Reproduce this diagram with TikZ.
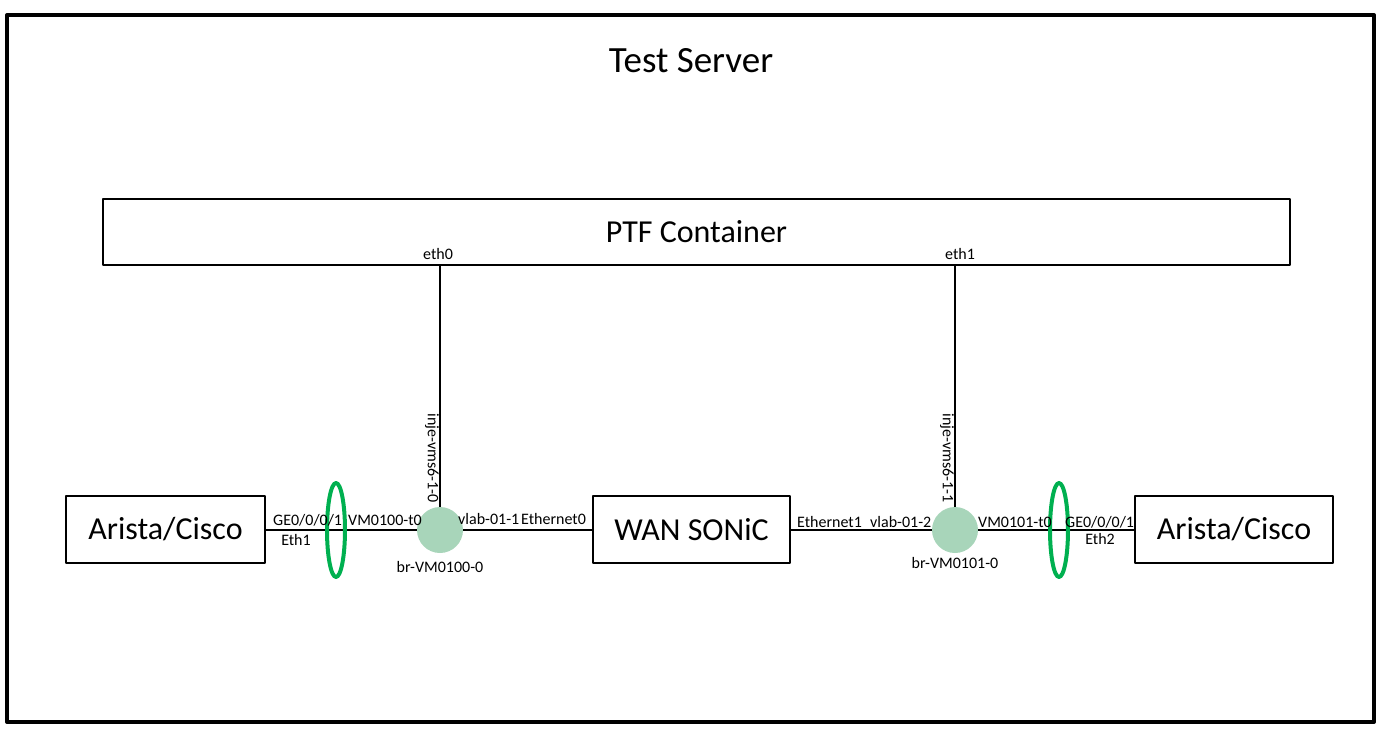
\documentclass[tikz,border=0pt]{standalone}
\usepackage{fontspec}
\setmainfont{Carlito}
\usetikzlibrary{shapes.geometric}
\definecolor{brfill}{RGB}{168,213,186}
\definecolor{laggreen}{RGB}{0,176,80}
\tikzset{
	box/.style={draw, line width=2.2pt, fill=white, inner sep=0pt, font=\fontsize{32}{36}\selectfont},
	bridge/.style={circle, fill=brfill, minimum size=46pt, inner sep=0pt},
	lag/.style={ellipse, draw=laggreen, line width=4pt, minimum width=18pt, minimum height=94pt, inner sep=0pt},
	lbl/.style={font=\fontsize{16}{18}\selectfont, inner sep=0pt},
	wire/.style={line width=2pt}
}
\begin{document}
\begin{tikzpicture}[x=1pt, y=-1pt, line join=round]
				\useasboundingbox (0,0) rectangle (1385,739);
				%frame
				\draw[line width=4pt] (7,15) rectangle (1374,722);
				\node[font=\fontsize{37}{41}\selectfont, anchor=base] (title) at (691,72) {Test Server};
				%boxes
				\node[box, minimum width=1187pt, minimum height=66pt] (ptf) at (696.5,232) {PTF Container};
				\node[box, minimum width=199pt, minimum height=67pt] (aristaL) at (165.5,529.5) {Arista/Cisco};
				\node[box, minimum width=197pt, minimum height=67pt] (wan) at (691.5,529.5) {WAN SONiC};
				\node[box, minimum width=198pt, minimum height=67pt] (aristaR) at (1234,529.5) {Arista/Cisco};
				\node[bridge] (brL) at (440,530) {};
				\node[bridge] (brR) at (955,530) {};
				\coordinate (eth0) at (440,265);
				\coordinate (eth1) at (955,265);
				%links
				\draw[wire] (aristaL.east |- brL) -- (brL);
				\draw[wire] (brL) -- (wan.west |- brL);
				\draw[wire] (wan.east |- brR) -- (brR);
				\draw[wire] (brR) -- (aristaR.west |- brR);
				\draw[wire] (eth0) -- (brL.north);
				\draw[wire] (eth1) -- (brR.north);
				\node[lag] (lagL) at (336,530) {};
				\node[lag] (lagR) at (1059,530) {};
				%labels
				\node[lbl, anchor=base] at (438,259) {eth0};
				\node[lbl, anchor=base] at (960,259) {eth1};
				\node[lbl, rotate=-90, anchor=north east] at (439,503) {inje-vms6-1-0};
				\node[lbl, rotate=-90, anchor=north east] at (954,503) {inje-vms6-1-1};
				\node[lbl, anchor=base west] at (273,525) {GE0/0/0/1};
				\node[lbl, anchor=base] at (296,545) {Eth1};
				\node[lbl, anchor=base west] at (348,525) {VM0100-t0};
				\node[lbl, anchor=base west] at (458,524) {vlab-01-1};
				\node[lbl, anchor=base west] at (521,524) {Ethernet0};
				\node[lbl, anchor=base] at (440,572) {br-VM0100-0};
				\node[lbl, anchor=base west] at (797,527) {Ethernet1};
				\node[lbl, anchor=base west] at (870,527) {vlab-01-2};
				\node[lbl, anchor=base] at (955,568) {br-VM0101-0};
				\node[lbl, anchor=base west] at (978,527) {VM0101-t0};
				\node[lbl, anchor=base west] at (1065,527) {GE0/0/0/1};
				\node[lbl, anchor=base] at (1100,544) {Eth2};
\end{tikzpicture}
\end{document}
